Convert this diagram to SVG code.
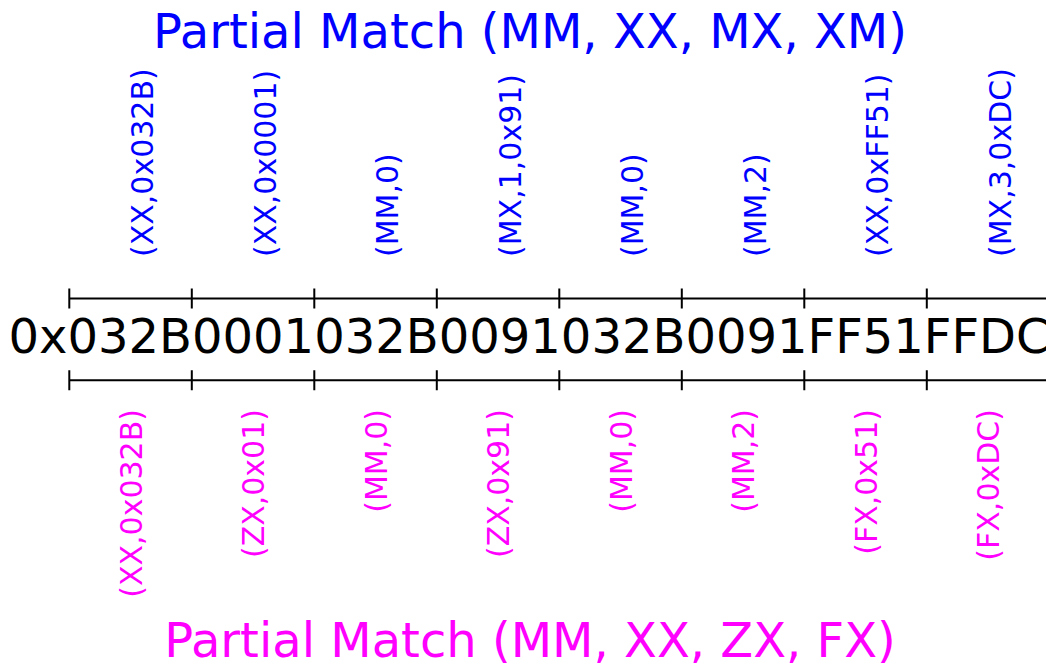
<svg xmlns="http://www.w3.org/2000/svg" width="1046" height="666" viewBox="0 0 1046 666">
<style>
text{font-family:"DejaVu Sans","Liberation Sans",sans-serif}
.title{font-size:48px;text-anchor:middle}
.main{font-size:48px;fill:#000}
.top{font-size:30px;fill:#0000ff;text-anchor:start}
.bot{font-size:30px;fill:#ff00ff;text-anchor:end}
.ln{stroke:#000;stroke-width:2;fill:none}
</style>
<rect width="1046" height="666" fill="#fff"/>
<g id="title-top"><text class="title" x="530" y="47.5" fill="#0000ff">Partial Match (MM, XX, MX, XM)</text></g>
<g id="title-bottom"><text class="title" x="530" y="657" fill="#ff00ff">Partial Match (MM, XX, ZX, FX)</text></g>
<g id="connectors">
<path class="ln" d="M69.3 298.5H1046M69.3 288.5V308.5M191.8 288.5V308.5M314.3 288.5V308.5M436.8 288.5V308.5M559.3 288.5V308.5M681.8 288.5V308.5M804.3 288.5V308.5M926.8 288.5V308.5"/>
<path class="ln" d="M69.3 380.3H1046M69.3 370.3V390.3M191.8 370.3V390.3M314.3 370.3V390.3M436.8 370.3V390.3M559.3 370.3V390.3M681.8 370.3V390.3M804.3 370.3V390.3M926.8 370.3V390.3"/>
</g>
<g id="sequence"><text class="main" x="8.5" y="352.5">0x032B0001032B0091032B0091FF51FFDC</text></g>
<g id="top-labels">
<text class="top" transform="translate(153,257) rotate(-90)">(XX,0x032B)</text>
<text class="top" transform="translate(275.5,257) rotate(-90)">(XX,0x0001)</text>
<text class="top" transform="translate(398,257) rotate(-90)">(MM,0)</text>
<text class="top" transform="translate(520.5,257) rotate(-90)">(MX,1,0x91)</text>
<text class="top" transform="translate(643,257) rotate(-90)">(MM,0)</text>
<text class="top" transform="translate(765.5,257) rotate(-90)">(MM,2)</text>
<text class="top" transform="translate(888,257) rotate(-90)">(XX,0xFF51)</text>
<text class="top" transform="translate(1010.5,257) rotate(-90)">(MX,3,0xDC)</text>
</g>
<g id="bottom-labels">
<text class="bot" transform="translate(141.5,409) rotate(-90)">(XX,0x032B)</text>
<text class="bot" transform="translate(264,409) rotate(-90)">(ZX,0x01)</text>
<text class="bot" transform="translate(386.5,409) rotate(-90)">(MM,0)</text>
<text class="bot" transform="translate(509,409) rotate(-90)">(ZX,0x91)</text>
<text class="bot" transform="translate(631.5,409) rotate(-90)">(MM,0)</text>
<text class="bot" transform="translate(754,409) rotate(-90)">(MM,2)</text>
<text class="bot" transform="translate(876.5,409) rotate(-90)">(FX,0x51)</text>
<text class="bot" transform="translate(999,409) rotate(-90)">(FX,0xDC)</text>
</g>
</svg>
